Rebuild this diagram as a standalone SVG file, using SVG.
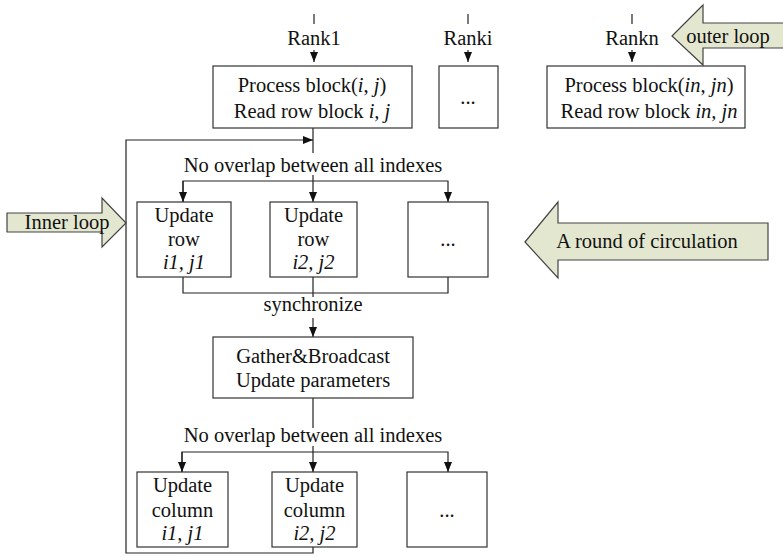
<svg xmlns="http://www.w3.org/2000/svg" width="783" height="557" viewBox="0 0 783 557">
<style>
text{font-family:"Liberation Serif","Times New Roman",serif;font-size:20.5px;fill:#111;text-anchor:middle}
.it{font-style:italic}
.box{fill:#fff;stroke:#333;stroke-width:1.2}
.ln{fill:none;stroke:#222;stroke-width:1.2}
.big{fill:#E4E7D0;stroke:#444;stroke-width:1.2}
</style>
<defs>
<marker id="ah" markerUnits="userSpaceOnUse" markerWidth="10" markerHeight="10" viewBox="0 0 10 10" refX="10" refY="5" orient="auto">
<path d="M0,1 L10,5 L0,9 Z" fill="#111"/>
</marker>
</defs>
<g id="connectors">
<line class="ln" x1="314" y1="14" x2="314" y2="24"/>
<line class="ln" x1="314" y1="50" x2="314" y2="62" marker-end="url(#ah)"/>
<line class="ln" x1="468" y1="14" x2="468" y2="24"/>
<line class="ln" x1="468" y1="50" x2="468" y2="62" marker-end="url(#ah)"/>
<line class="ln" x1="632" y1="14" x2="632" y2="24"/>
<line class="ln" x1="632" y1="50" x2="632" y2="62" marker-end="url(#ah)"/>
<line class="ln" x1="313" y1="128" x2="313" y2="153"/>
<polyline class="ln" points="313,546 313,553 126,553 126,140 313,140" marker-end="url(#ah)"/>
<line class="ln" x1="313" y1="175" x2="313" y2="202" marker-end="url(#ah)"/>
<polyline class="ln" points="183,202 183,181 448,181 448,202" marker-end="url(#ah)"/>
<line class="ln" x1="183" y1="181" x2="183" y2="202" marker-end="url(#ah)"/>
<polyline class="ln" points="183,277 183,293 448,293 448,277"/>
<line class="ln" x1="313" y1="277" x2="313" y2="297"/>
<line class="ln" x1="313" y1="318" x2="313" y2="337" marker-end="url(#ah)"/>
<line class="ln" x1="313" y1="398" x2="313" y2="428"/>
<polyline class="ln" points="182,472 182,452 448,452 448,472" marker-end="url(#ah)"/>
<line class="ln" x1="182" y1="452" x2="182" y2="472" marker-end="url(#ah)"/>
<line class="ln" x1="313" y1="446" x2="313" y2="472" marker-end="url(#ah)"/>
</g>
<g id="rank-labels">
<text x="314" y="45">Rank1</text>
<text x="468" y="45">Ranki</text>
<text x="632" y="45">Rankn</text>
</g>
<g id="process1">
<rect class="box" x="213" y="66" width="199" height="62"/>
<text x="312" y="92">Process block(<tspan class="it">i</tspan>, <tspan class="it">j</tspan>)</text>
<text x="312" y="118">Read row block <tspan class="it">i, j</tspan></text>
</g>
<g id="processi">
<rect class="box" x="439" y="66" width="59" height="62"/>
<text x="468" y="104">...</text>
</g>
<g id="processn">
<rect class="box" x="547" y="66" width="198" height="62"/>
<text x="649" y="92">Process block(<tspan class="it">in</tspan>, <tspan class="it">jn</tspan>)</text>
<text x="649" y="118">Read row block <tspan class="it">in, jn</tspan></text>
</g>
<g id="outer-loop">
<polygon class="big" points="672,36 703,5 703,23 786,23 786,48 703,48 703,65"/>
<text x="728" y="43">outer loop</text>
</g>
<g id="label-nooverlap1">
<text x="313" y="172">No overlap between all indexes</text>
</g>
<g id="inner-loop">
<polygon class="big" points="7,213 102,213 102,198 126,223 102,247 102,232 7,232"/>
<text x="67" y="229">Inner loop</text>
</g>
<g id="row1">
<rect class="box" x="137" y="202" width="94" height="75"/>
<text x="184" y="222">Update</text>
<text x="184" y="246">row</text>
<text x="184" y="269" class="it">i1, j1</text>
</g>
<g id="row2">
<rect class="box" x="270" y="202" width="87" height="75"/>
<text x="313.5" y="222">Update</text>
<text x="313.5" y="246">row</text>
<text x="313.5" y="269" class="it">i2, j2</text>
</g>
<g id="row3">
<rect class="box" x="408" y="202" width="80" height="75"/>
<text x="448" y="246">...</text>
</g>
<g id="round-arrow">
<polygon class="big" points="525,242 558,202 558,223 768,223 768,260 558,260 558,278"/>
<text x="647" y="248">A round of circulation</text>
</g>
<g id="label-sync">
<text x="313" y="311">synchronize</text>
</g>
<g id="gather">
<rect class="box" x="213" y="337" width="200" height="61"/>
<text x="313" y="363">Gather&amp;Broadcast</text>
<text x="313" y="387">Update parameters</text>
</g>
<g id="label-nooverlap2">
<text x="313" y="442">No overlap between all indexes</text>
</g>
<g id="col1">
<rect class="box" x="137" y="472" width="91" height="75"/>
<text x="182.5" y="492">Update</text>
<text x="182.5" y="517">column</text>
<text x="182.5" y="540" class="it">i1, j1</text>
</g>
<g id="col2">
<rect class="box" x="272" y="472" width="85" height="75"/>
<text x="314.5" y="492">Update</text>
<text x="314.5" y="517">column</text>
<text x="314.5" y="540" class="it">i2, j2</text>
</g>
<g id="col3">
<rect class="box" x="407" y="472" width="80" height="75"/>
<text x="447" y="517">...</text>
</g>
</svg>
